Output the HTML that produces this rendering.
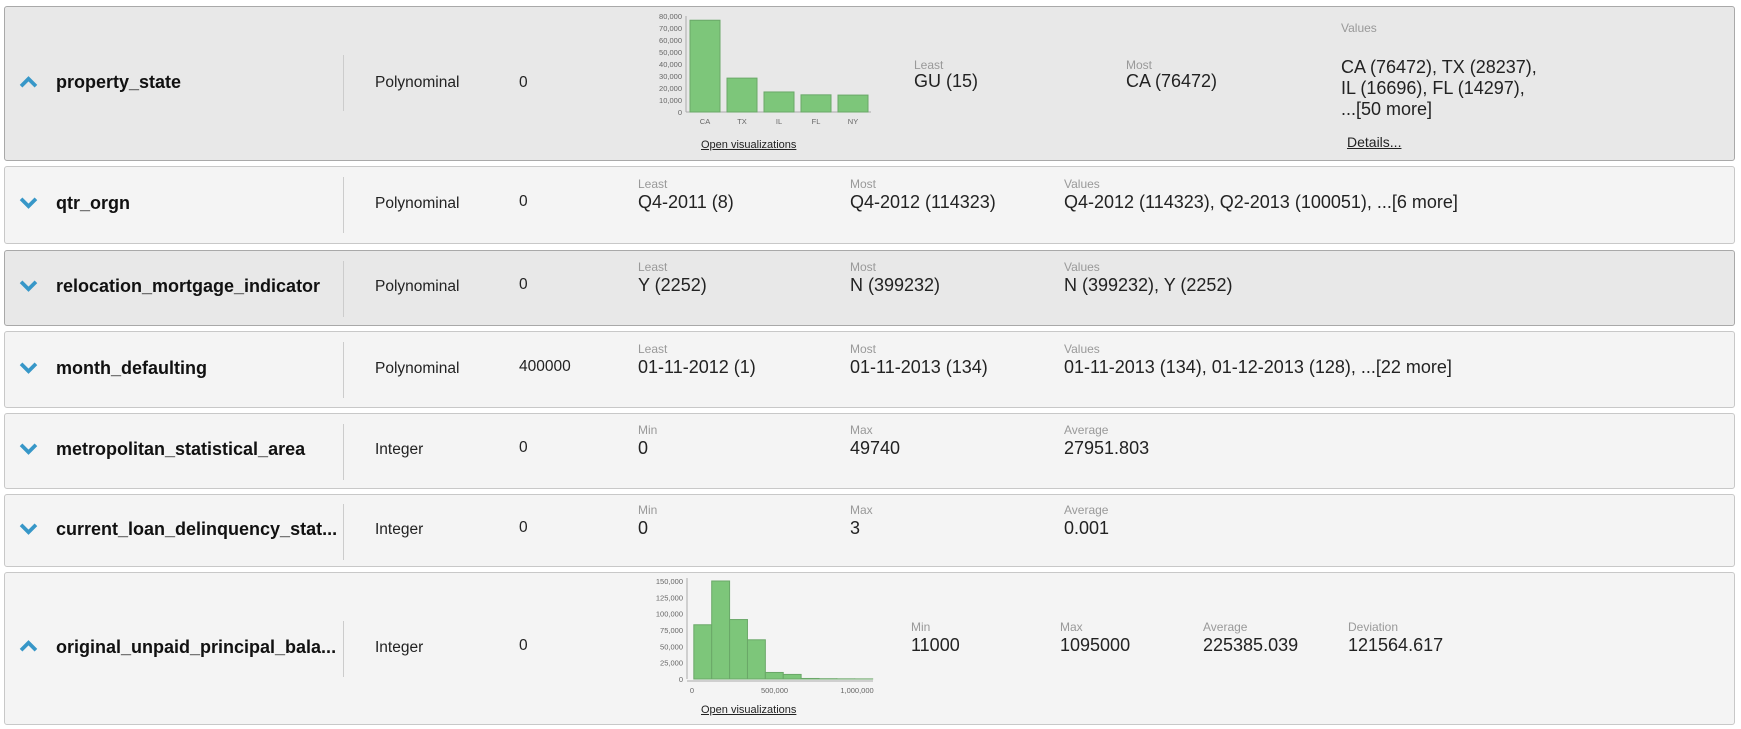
<!DOCTYPE html>
<html><head><meta charset="utf-8"><style>
body{margin:0;width:1741px;height:729px;background:#fff;position:relative;font-family:"Liberation Sans",Arial,sans-serif;overflow:hidden}
.row{position:absolute;left:4px;width:1731px;border:1px solid #c8c8c8;border-radius:3px;background:#f4f4f4;box-sizing:border-box}
.row.sel{background:#e8e8e8;border-color:#a9a9a9}
.ab{position:absolute;white-space:nowrap}
.name{font-weight:bold;font-size:18px;color:#111;left:51px;margin-top:-2px}
.chev{left:14px;width:19px;height:13px}
.sep{position:absolute;left:338px;width:1px;background:#ccc}
.typ{left:370px;font-size:15.5px;color:#222;margin-top:-1px}
.mis{left:514px;font-size:15.5px;color:#222;margin-top:-1px}
.lab{font-size:12px;color:#999}
.val{font-size:18px;color:#222;margin-top:-2px}
.link{font-size:11px;color:#222;text-decoration:underline}
</style></head><body>
<svg width="0" height="0" style="position:absolute"><defs>
<symbol id="up" viewBox="0 0 20 14"><path d="M2 11 L10 3 L18 11" stroke="#3797c8" stroke-width="4" fill="none"/></symbol>
<symbol id="down" viewBox="0 0 20 14"><path d="M2 3 L10 11 L18 3" stroke="#3797c8" stroke-width="4" fill="none"/></symbol>
</defs></svg>

<div class="row sel" style="top:6px;height:155px">
<svg class="ab chev" style="top:69px"><use href="#up"/></svg>
<div class="ab name" style="top:67px">property_state</div>
<div class="sep" style="top:48px;height:56px"></div>
<div class="ab typ" style="top:68px">Polynominal</div>
<div class="ab mis" style="top:68px">0</div>
<svg id="bar1" class="ab" style="left:0;top:0" width="900" height="155"></svg>
<div class="ab link" style="left:696px;top:132px">Open visualizations</div>
<div class="ab lab" style="left:909px;top:51px">Least</div>
<div class="ab val" style="left:909px;top:66px">GU (15)</div>
<div class="ab lab" style="left:1121px;top:51px">Most</div>
<div class="ab val" style="left:1121px;top:66px">CA (76472)</div>
<div class="ab lab" style="left:1336px;top:14px">Values</div>
<div class="ab val" style="left:1336px;top:52px;line-height:21px">CA (76472), TX (28237),<br>IL (16696), FL (14297),<br>...[50 more]</div>
<div class="ab link" style="left:1342px;top:127px;font-size:14px">Details...</div>
</div>

<div class="row" style="top:166px;height:78px">
<svg class="ab chev" style="top:29px"><use href="#down"/></svg>
<div class="ab name" style="top:28px">qtr_orgn</div>
<div class="sep" style="top:10px;height:56px"></div>
<div class="ab typ" style="top:29px">Polynominal</div>
<div class="ab mis" style="top:27px">0</div>
<div class="ab lab" style="left:633px;top:10px">Least</div>
<div class="ab val" style="left:633px;top:27px">Q4-2011 (8)</div>
<div class="ab lab" style="left:845px;top:10px">Most</div>
<div class="ab val" style="left:845px;top:27px">Q4-2012 (114323)</div>
<div class="ab lab" style="left:1059px;top:10px">Values</div>
<div class="ab val" style="left:1059px;top:27px">Q4-2012 (114323), Q2-2013 (100051), ...[6 more]</div>
</div>

<div class="row sel" style="top:250px;height:76px">
<svg class="ab chev" style="top:28px"><use href="#down"/></svg>
<div class="ab name" style="top:27px">relocation_mortgage_indicator</div>
<div class="sep" style="top:10px;height:56px"></div>
<div class="ab typ" style="top:28px">Polynominal</div>
<div class="ab mis" style="top:26px">0</div>
<div class="ab lab" style="left:633px;top:9px">Least</div>
<div class="ab val" style="left:633px;top:26px">Y (2252)</div>
<div class="ab lab" style="left:845px;top:9px">Most</div>
<div class="ab val" style="left:845px;top:26px">N (399232)</div>
<div class="ab lab" style="left:1059px;top:9px">Values</div>
<div class="ab val" style="left:1059px;top:26px">N (399232), Y (2252)</div>
</div>

<div class="row" style="top:331px;height:77px">
<svg class="ab chev" style="top:29px"><use href="#down"/></svg>
<div class="ab name" style="top:28px">month_defaulting</div>
<div class="sep" style="top:10px;height:56px"></div>
<div class="ab typ" style="top:29px">Polynominal</div>
<div class="ab mis" style="top:27px">400000</div>
<div class="ab lab" style="left:633px;top:10px">Least</div>
<div class="ab val" style="left:633px;top:27px">01-11-2012 (1)</div>
<div class="ab lab" style="left:845px;top:10px">Most</div>
<div class="ab val" style="left:845px;top:27px">01-11-2013 (134)</div>
<div class="ab lab" style="left:1059px;top:10px">Values</div>
<div class="ab val" style="left:1059px;top:27px">01-11-2013 (134), 01-12-2013 (128), ...[22 more]</div>
</div>

<div class="row" style="top:413px;height:76px">
<svg class="ab chev" style="top:28px"><use href="#down"/></svg>
<div class="ab name" style="top:27px">metropolitan_statistical_area</div>
<div class="sep" style="top:10px;height:56px"></div>
<div class="ab typ" style="top:28px">Integer</div>
<div class="ab mis" style="top:26px">0</div>
<div class="ab lab" style="left:633px;top:9px">Min</div>
<div class="ab val" style="left:633px;top:26px">0</div>
<div class="ab lab" style="left:845px;top:9px">Max</div>
<div class="ab val" style="left:845px;top:26px">49740</div>
<div class="ab lab" style="left:1059px;top:9px">Average</div>
<div class="ab val" style="left:1059px;top:26px">27951.803</div>
</div>

<div class="row" style="top:494px;height:73px">
<svg class="ab chev" style="top:27px"><use href="#down"/></svg>
<div class="ab name" style="top:26px">current_loan_delinquency_stat...</div>
<div class="sep" style="top:9px;height:56px"></div>
<div class="ab typ" style="top:27px">Integer</div>
<div class="ab mis" style="top:25px">0</div>
<div class="ab lab" style="left:633px;top:8px">Min</div>
<div class="ab val" style="left:633px;top:25px">0</div>
<div class="ab lab" style="left:845px;top:8px">Max</div>
<div class="ab val" style="left:845px;top:25px">3</div>
<div class="ab lab" style="left:1059px;top:8px">Average</div>
<div class="ab val" style="left:1059px;top:25px">0.001</div>
</div>

<div class="row" style="top:572px;height:153px">
<svg class="ab chev" style="top:67px"><use href="#up"/></svg>
<div class="ab name" style="top:66px">original_unpaid_principal_bala...</div>
<div class="sep" style="top:48px;height:56px"></div>
<div class="ab typ" style="top:67px">Integer</div>
<div class="ab mis" style="top:65px">0</div>
<svg id="hist" class="ab" style="left:0;top:0" width="900" height="153"></svg>
<div class="ab link" style="left:696px;top:131px">Open visualizations</div>
<div class="ab lab" style="left:906px;top:47px">Min</div>
<div class="ab val" style="left:906px;top:64px">11000</div>
<div class="ab lab" style="left:1055px;top:47px">Max</div>
<div class="ab val" style="left:1055px;top:64px">1095000</div>
<div class="ab lab" style="left:1198px;top:47px">Average</div>
<div class="ab val" style="left:1198px;top:64px">225385.039</div>
<div class="ab lab" style="left:1343px;top:47px">Deviation</div>
<div class="ab val" style="left:1343px;top:64px">121564.617</div>
</div>

<script>
const stateCats=["CA","TX","IL","FL","NY"];
const stateCounts=[76472,28237,16696,14297,14100];
const stateTicks=[0,10000,20000,30000,40000,50000,60000,70000,80000];
const histStarts=[11000,119400,227800,336200,444600,553000,661400,769800,878200,986600];
const histCounts=[83000,150000,91000,60000,10000,7000,800,400,200,100];
const histYTicks=[0,25000,50000,75000,100000,125000,150000];
const histXTicks=[0,500000,1000000];
const binWidth=108400;
const NS="http://www.w3.org/2000/svg";
function mk(p,t,a){const e=document.createElementNS(NS,t);for(const k in a)e.setAttribute(k,a[k]);p.appendChild(e);return e;}
const fmt=v=>v.toLocaleString("en-US");
(function(){
 const s=document.getElementById("bar1");
 const x0=681,x1=866,yT=9,y0=105;
 const y=v=>y0-(v/80000)*(y0-yT);
 const step=(x1-x0)/stateCats.length;
 mk(s,"line",{x1:x0,y1:yT,x2:x0,y2:y0,stroke:"#aaa"});
 mk(s,"line",{x1:x0,y1:y0,x2:x1,y2:y0,stroke:"#aaa"});
 stateTicks.forEach(t=>{const tx=mk(s,"text",{x:x0-4,y:y(t)+3,"font-size":"7.5","text-anchor":"end",fill:"#666"});tx.textContent=fmt(t);
  
  });
 stateCats.forEach((c,i)=>{
  const bx=x0+4+i*step, w=step-7;
  const r=mk(s,"rect",{x:bx,y:y(stateCounts[i]),width:w,height:y0-y(stateCounts[i]),fill:"#7dc67a",stroke:"#6aa868"});
  
  
  const t=mk(s,"text",{x:bx+w/2,y:y0+12,"font-size":"7.5","text-anchor":"middle",fill:"#666"});t.textContent=c;
  
  
 });
})();
(function(){
 const s=document.getElementById("hist");
 const xa=682,x0=687,yT=8,y0=106,xe=868;
 const y=v=>y0-(v/150000)*(y0-yT);
 const x=v=>x0+(v/500000)*82.5;
 mk(s,"line",{x1:xa,y1:yT-3,x2:xa,y2:y0,stroke:"#aaa"});
 mk(s,"line",{x1:xa,y1:y0+2,x2:xe,y2:y0+2,stroke:"#aaa"});
 histYTicks.forEach(t=>{const tx=mk(s,"text",{x:xa-4,y:y(t)+3,"font-size":"7.5","text-anchor":"end",fill:"#666"});tx.textContent=fmt(t);
  
  });
 histXTicks.forEach(t=>{const tx=mk(s,"text",{x:x(t),y:y0+14,"font-size":"7.5","text-anchor":"middle",fill:"#666"});tx.textContent=fmt(t);
  
  });
 histStarts.forEach((b,i)=>{
  const r=mk(s,"rect",{x:x(b),y:y(histCounts[i]),width:x(b+binWidth)-x(b),height:y0-y(histCounts[i]),fill:"#7dc67a",stroke:"#6aa868"});
  
  
 });
})();
</script>
</body></html>
